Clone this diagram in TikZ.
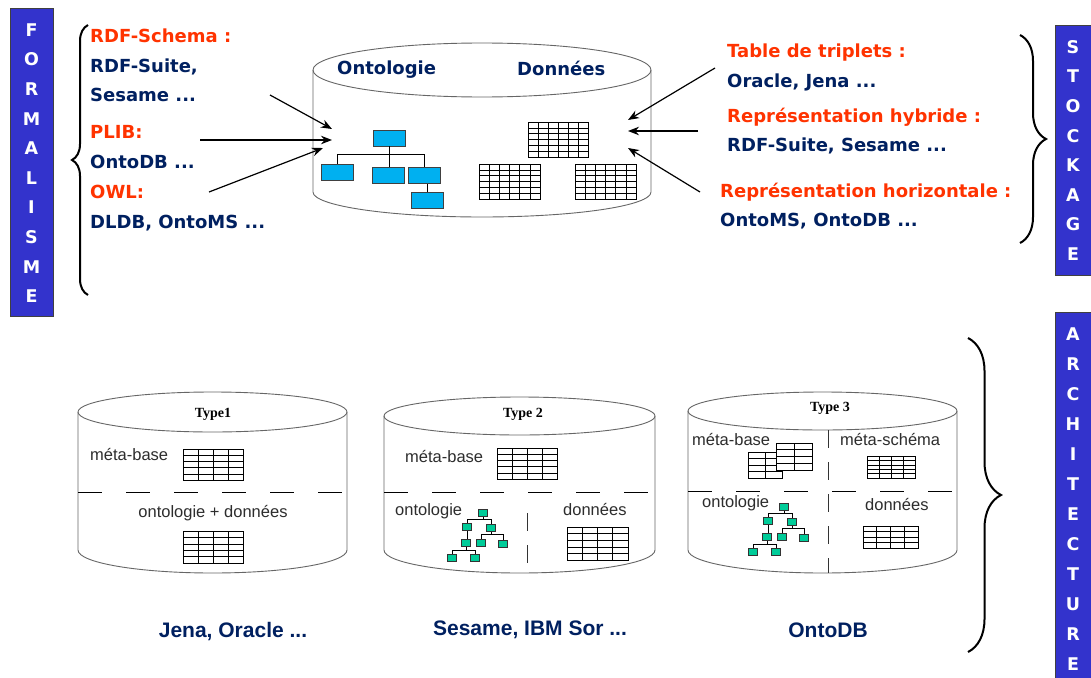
\documentclass[tikz,border=0pt]{standalone}
\usepackage{fontspec}
\setmainfont{DejaVu Sans}
\newfontfamily\arialf{Liberation Sans}
\newfontfamily\timesf{Liberation Serif}
\usetikzlibrary{arrows.meta,decorations.pathreplacing}
\definecolor{barblue}{RGB}{51,51,204}
\definecolor{redt}{RGB}{255,51,0}
\definecolor{navy}{RGB}{0,32,96}
\definecolor{cyanbox}{RGB}{0,176,240}
\definecolor{greenbox}{RGB}{0,204,153}
\definecolor{graytxt}{RGB}{45,45,45}
\tikzset{
  bar/.style={fill=barblue, draw=black!75, line width=0.8pt},
  barletter/.style={text=white, font=\fontsize{17.5}{18}\selectfont\bfseries, inner sep=0pt},
  redlbl/.style={text=redt, font=\fontsize{18}{20}\selectfont\bfseries, anchor=mid west, inner sep=0pt},
  navylbl/.style={text=navy, font=\fontsize{18}{20}\selectfont\bfseries, anchor=mid west, inner sep=0pt},
  botlbl/.style={text=navy, font=\arialf\fontsize{21}{23}\selectfont\bfseries, inner sep=0pt},
  smalltxt/.style={text=graytxt, font=\arialf\fontsize{16.5}{18}\selectfont, inner sep=0pt, anchor=mid west},
  typelbl/.style={text=black, font=\timesf\fontsize{14}{16}\selectfont\bfseries, inner sep=0pt},
  cylline/.style={draw=black!60, line width=0.9pt},
  tabline/.style={draw=black, line width=0.6pt},
  topbox/.style={draw=black!75, fill=cyanbox, minimum width=32pt, minimum height=16pt, inner sep=0pt, line width=0.8pt},
  gbox/.style={draw=black!80, fill=greenbox, minimum width=9pt, minimum height=7pt, inner sep=0pt, line width=0.5pt},
  arr/.style={-{Stealth[length=11pt,width=8.5pt]}, line width=1.2pt},
  curly/.style={decorate, decoration={brace, amplitude=#1}, line width=2pt},
  hdash/.style={draw=black, line width=0.8pt, dash pattern=on 24pt off 24pt},
  vdash/.style={draw=black!80, line width=0.8pt, dash pattern=on 18pt off 14pt},
  treeline/.style={draw=black, line width=0.6pt}
}
\newcommand\tabgrid[6]{%
  \pgfmathsetmacro\tgw{(#3-#1)/#5}%
  \pgfmathsetmacro\tgh{(#4-#2)/#6}%
  \pgfmathtruncatemacro\tgc{#5-1}%
  \pgfmathtruncatemacro\tgr{#6-1}%
  \draw[tabline,fill=white] (#1,#2) rectangle (#3,#4);
  \foreach \k in {1,...,\tgc}{\draw[tabline] ({#1+\k*\tgw},#2) -- ({#1+\k*\tgw},#4);}
  \foreach \k in {1,...,\tgr}{\draw[tabline] (#1,{#2+\k*\tgh}) -- (#3,{#2+\k*\tgh});}
}
\newcommand\cyl[6]{%
  \draw[cylline] ({#1-#2},#3) -- ({#1-#2},#5) arc[start angle=180,end angle=360,x radius=#2pt,y radius=#6pt] -- ({#1+#2},#3);
  \draw[cylline] (#1,#3) ellipse[x radius=#2pt,y radius=#4pt];
}
% green tree: prefix, root x, root y
\newcommand\gtree[3]{%
  \begin{scope}[shift={(#2,#3)}]
    \node[gbox] (#1R) at (0,0) {};
    \node[gbox] (#1A) at (-16,14) {};
    \node[gbox] (#1B) at (8,15) {};
    \node[gbox] (#1C) at (-17,30) {};
    \node[gbox] (#1D) at (-2,30) {};
    \node[gbox] (#1E) at (20,31) {};
    \node[gbox] (#1F) at (-31,45) {};
    \node[gbox] (#1G) at (-8,45) {};
    \draw[treeline] (#1R.south) -- ++(0,3) -| (#1A.north);
    \draw[treeline] (#1R.south) ++(0,3) -| (#1B.north);
    \draw[treeline] (#1A.south) -- (#1A.south |- #1C.north);
    \draw[treeline] (#1B.south) -- ++(0,3) -| (#1D.north);
    \draw[treeline] (#1B.south) ++(0,3) -| (#1E.north);
    \draw[treeline] (#1C.south) -- ++(0,4) -| (#1F.north);
    \draw[treeline] (#1C.south) ++(0,4) -| (#1G.north);
  \end{scope}
}
\begin{document}
\begin{tikzpicture}[x=1pt,y=-1pt]
\useasboundingbox (0,0) rectangle (1091,677);
\fill[white] (0,0) rectangle (1091,677);

% ===== side bars =====
\draw[bar] (10,8) rectangle (53,316);
\foreach \l [count=\i from 0] in {F,O,R,M,A,L,I,S,M,E}
  \node[barletter] (fm\i) at (31.5,{30+29.6*\i}) {\l};
\draw[bar] (1055,25) rectangle (1096,275);
\foreach \l [count=\i from 0] in {S,T,O,C,K,A,G,E}
  \node[barletter] (st\i) at (1073,{47+29.6*\i}) {\l};
\draw[bar] (1055,312) rectangle (1096,682);
\foreach \l [count=\i from 0] in {A,R,C,H,I,T,E,C,T,U,R,E}
  \node[barletter] (ar\i) at (1073,{334+30*\i}) {\l};

% ===== braces =====
\draw[curly=16pt] (88,295) -- (88,25);
\draw[curly=26pt] (1020,35) -- (1020,243);
\draw[curly=33pt] (968,338) -- (968,652);

% ===== left texts =====
\node[redlbl]  (rdfs)  at (90,39.5) {RDF-Schema :};
\node[navylbl] (rdfsu) at (90,69.5) {RDF-Suite,};
\node[navylbl] (ses)   at (90,98.5) {Sesame ...};
\node[redlbl]  (plib)  at (90,135.5) {PLIB:};
\node[navylbl] (odb)   at (90,165.5) {OntoDB ...};
\node[redlbl]  (owl)   at (90,195.5) {OWL:};
\node[navylbl] (dldb)  at (90,225.5) {DLDB, OntoMS ...};

% ===== right texts =====
\node[redlbl]  (tt)   at (727,54.5) {Table de triplets :};
\node[navylbl] (oj)   at (727,84.5) {Oracle, Jena ...};
\node[redlbl]  (rh)   at (727,119.5) {Représentation hybride :};
\node[navylbl] (rs)   at (727,148.5) {RDF-Suite, Sesame ...};
\node[redlbl]  (rhz)  at (720,194.5) {Représentation horizontale :};
\node[navylbl] (oo)   at (720,223.5) {OntoMS, OntoDB ...};

% ===== top cylinder =====
\cyl{482}{169}{70}{27}{192}{25}
\node[navylbl] (ontl) at (337,71.5) {Ontologie};
\node[navylbl] (donl) at (517,72.5) {Données};
\node[topbox] (t0) at (389,138) {};
\node[topbox] (t1) at (337,172) {};
\node[topbox] (t2) at (388,175) {};
\node[topbox] (t3) at (424.5,175.5) {};
\node[topbox] (t4) at (427.5,200.5) {};
\draw[treeline] (t1.north) -- ++(0,-9) -| (t3.north);
\draw[treeline] (t0.south) -- (t0.south |- t2.north);
\draw[treeline] (t4.north) -- (t4.north |- t3.south);
\tabgrid{528}{122}{588}{157}{6}{6}
\tabgrid{479}{164}{540}{199}{6}{6}
\tabgrid{575}{164}{636}{199}{6}{6}

% ===== arrows =====
\coordinate (a1s) at (270,95);  \coordinate (a1e) at (332,129);
\coordinate (a2s) at (200,140); \coordinate (a2e) at (332,140);
\coordinate (a3s) at (209,192); \coordinate (a3e) at (323,148);
\coordinate (b1s) at (715,68);  \coordinate (b1e) at (628,120);
\coordinate (b2s) at (698,131); \coordinate (b2e) at (628,131);
\coordinate (b3s) at (700,192); \coordinate (b3e) at (628,148);
\draw[arr] (a1s) -- (a1e);
\draw[arr] (a2s) -- (a2e);
\draw[arr] (a3s) -- (a3e);
\draw[arr] (b1s) -- (b1e);
\draw[arr] (b2s) -- (b2e);
\draw[arr] (b3s) -- (b3e);

% ===== Type 1 =====
\cyl{212.5}{134.5}{412}{20}{550}{23}
\node[typelbl] (ty1) at (213,414) {Type1};
\node[smalltxt] (mb1) at (90,458) {méta-base};
\tabgrid{183}{449}{243}{480}{4}{5}
\draw[hdash] (78,492) -- (347,492);
\node[smalltxt,anchor=mid] (od1) at (213,515) {ontologie + données};
\tabgrid{183}{531}{243}{563}{4}{5}

% ===== Type 2 =====
\cyl{519.5}{135.5}{416}{19}{550}{23}
\node[typelbl] (ty2) at (523,414) {Type 2};
\node[smalltxt] (mb2) at (405,460) {méta-base};
\tabgrid{497}{448}{557}{479}{4}{5}
\draw[hdash] (384,492) -- (655,492);
\draw[vdash] (527,513) -- (527,573);
\node[smalltxt] (on2) at (395,513) {ontologie};
\node[smalltxt] (do2) at (563,513) {données};
\tabgrid{567}{527}{628}{560}{4}{5}
\gtree{g2}{483}{513}

% ===== Type 3 =====
\cyl{822.5}{134.5}{411}{19}{550}{23}
\node[typelbl] (ty3) at (830,408) {Type 3};
\draw[vdash] (828,430) -- (828,573);
\draw[hdash] (688,491) -- (957,491);
\node[smalltxt] (mb3) at (692,443) {méta-base};
\tabgrid{748}{452}{782}{478}{2}{4}
\tabgrid{776}{443}{812}{470}{2}{4}
\node[smalltxt] (ms3) at (840,443) {méta-schéma};
\tabgrid{867}{456}{915}{478}{4}{5}
\node[smalltxt] (on3) at (702,505) {ontologie};
\node[smalltxt] (do3) at (865,508) {données};
\tabgrid{863}{526}{918}{548}{4}{4}
\gtree{g3}{784}{507}

% ===== bottom labels =====
\node[botlbl] (jena) at (233,632) {Jena, Oracle ...};
\node[botlbl] (sesa) at (530,630) {Sesame, IBM Sor ...};
\node[botlbl] (ontodb) at (828,630) {OntoDB};
\end{tikzpicture}
\end{document}
